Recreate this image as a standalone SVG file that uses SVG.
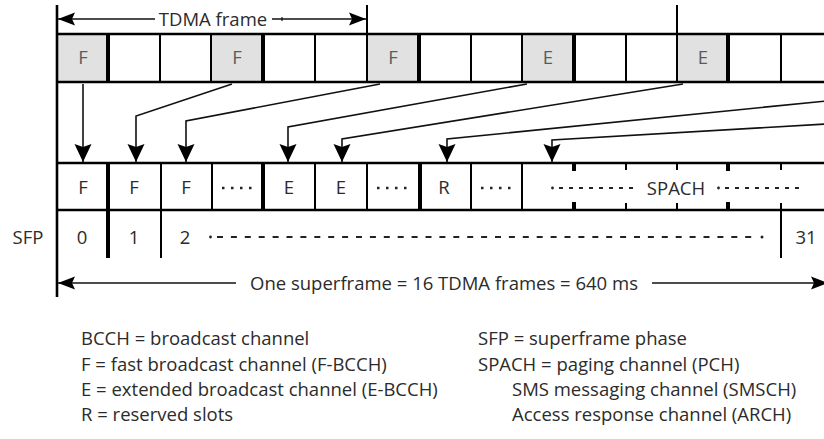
<svg xmlns="http://www.w3.org/2000/svg" width="824" height="439" viewBox="0 0 824 439">
  <style>
    text { font-family: "Open Sans", "DejaVu Sans", sans-serif; font-size: 18.5px; fill: #2b2b2b; }
    .mid { text-anchor: middle; }
    .top { fill: #5a5a5a; }
    .frame { stroke: #000; stroke-width: 2.6; fill: none; }
    .sep { stroke: #000; stroke-width: 2; }
    .thick { stroke: #000; stroke-width: 4; }
    .shade { fill: #e1e1e1; }
    .conn { stroke: #111; stroke-width: 1.6; fill: none; marker-end: url(#ah); }
    .dim { stroke: #111; stroke-width: 1.6; fill: none; }
    .dots { stroke: #222; stroke-width: 2.5; stroke-dasharray: 2.5 6.5; }
    .dash { stroke: #222; stroke-width: 1.8; }
  </style>
  <defs>
    <marker id="ah" viewBox="-20 -10 22 20" markerWidth="22" markerHeight="20" refX="0" refY="0" orient="auto" markerUnits="userSpaceOnUse">
      <path d="M0,0 L-18,-8.5 L-15,0 L-18,8.5 Z" fill="#000"/>
    </marker>
    <marker id="dimhead" viewBox="-20 -10 22 20" markerWidth="22" markerHeight="20" refX="0" refY="0" orient="auto-start-reverse" markerUnits="userSpaceOnUse">
      <path d="M0,0 L-17,-6.5 L-14,0 L-17,6.5 Z" fill="#000"/>
    </marker>
  </defs>

  <!-- TDMA frame dimension -->
  <g id="tdma-frame">
    <line class="dim" x1="58" y1="19" x2="155" y2="19" marker-start="url(#dimhead)"/>
    <text class="mid" x="213" y="25.5">TDMA frame</text>
    <line class="dim" x1="272" y1="19" x2="366" y2="19" marker-end="url(#dimhead)"/>
    <line x1="282" y1="17" x2="282" y2="21" stroke="#111" stroke-width="1.2"/>
  </g>

  <!-- top row: continuous slot sequence -->
  <g id="slot-row">
    <rect class="shade" x="57" y="33" width="51" height="49"/>
    <rect class="shade" x="212" y="33" width="51" height="49"/>
    <rect class="shade" x="367" y="33" width="52" height="49"/>
    <rect class="shade" x="522" y="33" width="51" height="49"/>
    <rect class="shade" x="677" y="33" width="51" height="49"/>
    <line class="frame" x1="57" y1="34" x2="824" y2="34"/>
    <line class="frame" x1="57" y1="82" x2="824" y2="82"/>
    <line class="thick" x1="108" y1="33" x2="108" y2="82"/>
    <line class="sep" x1="160" y1="33" x2="160" y2="82"/>
    <line class="sep" x1="211" y1="33" x2="211" y2="82"/>
    <line class="thick" x1="263" y1="33" x2="263" y2="82"/>
    <line class="sep" x1="315" y1="33" x2="315" y2="82"/>
    <line class="sep" x1="367" y1="5" x2="367" y2="82"/>
    <line class="thick" x1="419" y1="33" x2="419" y2="82"/>
    <line class="sep" x1="471" y1="33" x2="471" y2="82"/>
    <line class="sep" x1="522" y1="33" x2="522" y2="82"/>
    <line class="thick" x1="574" y1="33" x2="574" y2="82"/>
    <line class="sep" x1="626" y1="33" x2="626" y2="82"/>
    <line class="sep" x1="677" y1="5" x2="677" y2="82"/>
    <line class="thick" x1="728" y1="33" x2="728" y2="82"/>
    <line class="sep" x1="781" y1="33" x2="781" y2="82"/>
    <text class="mid top" x="83" y="64">F</text>
    <text class="mid top" x="237" y="64">F</text>
    <text class="mid top" x="393" y="64">F</text>
    <text class="mid top" x="548" y="64">E</text>
    <text class="mid top" x="703" y="64">E</text>
  </g>

  <!-- left boundary line -->
  <line x1="57" y1="5" x2="57" y2="297" stroke="#000" stroke-width="2.6"/>

  <!-- connectors from the slot row to the superframe row -->
  <g id="connectors">
    <polyline class="conn" points="83,84 83,162"/>
    <polyline class="conn" points="232,84 136,116 136,162"/>
    <polyline class="conn" points="380,84 186,121 186,162"/>
    <polyline class="conn" points="527,84 288,127 288,162"/>
    <polyline class="conn" points="683,84 342,139 342,162"/>
    <polyline class="conn" points="826,101 447,139 447,162"/>
    <polyline class="conn" points="826,124 552,140 552,162"/>
  </g>

  <!-- superframe channel row -->
  <g id="superframe-row">
    <line class="frame" x1="57" y1="163" x2="824" y2="163"/>
    <line class="frame" x1="57" y1="210" x2="824" y2="210"/>
    <line class="thick" x1="108" y1="163" x2="108" y2="258"/>
    <line class="sep" x1="161" y1="163" x2="161" y2="258"/>
    <line class="sep" x1="212" y1="163" x2="212" y2="210"/>
    <line class="thick" x1="263" y1="163" x2="263" y2="210"/>
    <line class="sep" x1="315" y1="163" x2="315" y2="210"/>
    <line class="sep" x1="367" y1="163" x2="367" y2="210"/>
    <line class="thick" x1="420" y1="163" x2="420" y2="210"/>
    <line class="sep" x1="471" y1="163" x2="471" y2="210"/>
    <line class="sep" x1="522" y1="163" x2="522" y2="210"/>
    <!-- SPACH block: tick marks only -->
    <line class="thick" x1="574" y1="163" x2="574" y2="171"/>
    <line class="thick" x1="574" y1="202" x2="574" y2="210"/>
    <line class="sep" x1="626" y1="163" x2="626" y2="170"/>
    <line class="sep" x1="626" y1="203" x2="626" y2="210"/>
    <line class="sep" x1="677" y1="163" x2="677" y2="170"/>
    <line class="sep" x1="677" y1="203" x2="677" y2="210"/>
    <line class="thick" x1="728" y1="163" x2="728" y2="171"/>
    <line class="thick" x1="728" y1="202" x2="728" y2="210"/>
    <line class="sep" x1="781" y1="163" x2="781" y2="170"/>
    <line class="sep" x1="781" y1="203" x2="781" y2="258"/>

    <text class="mid" x="83" y="194">F</text>
    <text class="mid" x="134" y="194">F</text>
    <text class="mid" x="186" y="194">F</text>
    <line class="dots" x1="222" y1="188" x2="254" y2="188"/>
    <text class="mid" x="289" y="194">E</text>
    <text class="mid" x="341" y="194">E</text>
    <line class="dots" x1="377" y1="188" x2="409" y2="188"/>
    <text class="mid" x="444" y="194">R</text>
    <line class="dots" x1="481" y1="188" x2="513" y2="188"/>

    <circle cx="552.5" cy="188" r="1.4" fill="#222"/>
    <line class="dash" x1="559" y1="188" x2="636" y2="188" stroke-dasharray="4 6"/>
    <text class="mid" x="676" y="195">SPACH</text>
    <circle cx="718.5" cy="188" r="1.4" fill="#222"/>
    <line class="dash" x1="725" y1="188" x2="802" y2="188" stroke-dasharray="4 6"/>
  </g>

  <!-- superframe phase row -->
  <g id="sfp-row">
    <text class="mid" x="28" y="244">SFP</text>
    <text class="mid" x="82" y="244">0</text>
    <text class="mid" x="134" y="244">1</text>
    <text class="mid" x="185" y="244">2</text>
    <circle cx="210.5" cy="237" r="1.4" fill="#222"/>
    <line class="dash" x1="217" y1="237" x2="758" y2="237" stroke-dasharray="6 7.9"/>
    <circle cx="762" cy="237" r="1.5" fill="#222"/>
    <text class="mid" x="806" y="244">31</text>
  </g>

  <!-- superframe length dimension -->
  <g id="superframe-length">
    <line class="dim" x1="58" y1="283" x2="236" y2="283" marker-start="url(#dimhead)"/>
    <text class="mid" x="444" y="289.5">One superframe = 16 TDMA frames = 640 ms</text>
    <line class="dim" x1="652" y1="283" x2="828" y2="283" marker-end="url(#dimhead)"/>
  </g>

  <!-- legend -->
  <g id="legend">
    <text x="81" y="345">BCCH = broadcast channel</text>
    <text x="81" y="371">F = fast broadcast channel (F-BCCH)</text>
    <text x="81" y="396">E = extended broadcast channel (E-BCCH)</text>
    <text x="81" y="421">R = reserved slots</text>
    <text x="478" y="345">SFP = superframe phase</text>
    <text x="478" y="371">SPACH = paging channel (PCH)</text>
    <text x="512" y="396">SMS messaging channel (SMSCH)</text>
    <text x="512" y="421">Access response channel (ARCH)</text>
  </g>
</svg>
